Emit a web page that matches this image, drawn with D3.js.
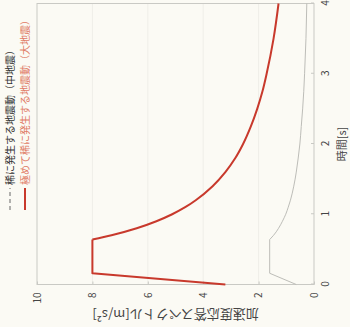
<!DOCTYPE html>
<html>
<head>
<meta charset="utf-8">
<script src="https://cdn.jsdelivr.net/npm/d3@7"></script>
<style>
  body { margin: 0; background: #fbfaf4; }
  text { font-family: "Noto Sans CJK JP", "Noto Sans", sans-serif; }
</style>
</head>
<body>
<div id="chart"></div>
<script>
// 周期[s] と 加速度応答スペクトル[m/s2]
const periods = [0, 0.16, 0.64, 0.7, 0.8, 0.9, 1.0, 1.1, 1.2, 1.4, 1.6, 1.8, 2.0, 2.25, 2.5, 2.75, 3.0, 3.5, 4.0];
const largeQuake = [3.2, 8.0, 8.0, 7.31, 6.4, 5.69, 5.12, 4.65, 4.27, 3.66, 3.2, 2.84, 2.56, 2.28, 2.05, 1.86, 1.71, 1.46, 1.28];
const mediumQuake = [0.64, 1.6, 1.6, 1.46, 1.28, 1.14, 1.02, 0.93, 0.85, 0.73, 0.64, 0.57, 0.51, 0.46, 0.41, 0.37, 0.34, 0.29, 0.26];
const timeTicks = [0, 1, 2, 3, 4];
const accelTicks = [0, 2, 4, 6, 8, 10];
const legendLabels = ["稀に発生する地震動（中地震）", "極めて稀に発生する地震動（大地震）"];

const W = 350, H = 327;
const RED = "#c8392c";

const svg = d3.select("#chart").append("svg")
  .attr("width", W)
  .attr("height", H)
  .style("background-color", "#fbfaf4");

// the figure is shown turned a quarter to the left
const g = svg.append("g").attr("transform", `translate(0,${H}) rotate(-90)`);

const x = d3.scaleLinear().domain([0, 4]).range([42.5, 323.5]);
const y = d3.scaleLinear().domain([0, 10]).range([314, 37]);

// faint grid
g.selectAll(".grid")
  .data(accelTicks.slice(1, -1))
  .enter().append("line")
  .attr("x1", x(0)).attr("x2", x(4))
  .attr("y1", d => y(d)).attr("y2", d => y(d))
  .style("stroke", "#efeee8")
  .style("stroke-width", 1);

// frame
g.append("rect")
  .attr("x", x(0)).attr("y", y(10))
  .attr("width", x(4) - x(0)).attr("height", y(0) - y(10))
  .attr("fill", "none")
  .style("stroke", "#c9c9c4")
  .style("stroke-width", 1);

const xAxis = g.append("g")
  .attr("transform", `translate(0,${y(0)})`)
  .call(d3.axisBottom(x).tickValues(timeTicks).tickFormat(d3.format("d"))
    .tickSizeInner(-3).tickSizeOuter(0).tickPadding(8));
const yAxis = g.append("g")
  .attr("transform", `translate(${x(0)},0)`)
  .call(d3.axisLeft(y).tickValues(accelTicks).tickFormat(d3.format("d"))
    .tickSizeInner(-3).tickSizeOuter(0).tickPadding(8));

[xAxis, yAxis].forEach(a => {
  a.select(".domain").remove();
  a.selectAll("line").style("stroke", "#c9c9c4");
  a.selectAll("text").style("font-size", "10px").style("fill", "#444");
});

g.append("text")
  .attr("x", (x(0) + x(4)) / 2)
  .attr("y", 346)
  .attr("text-anchor", "middle")
  .style("font-size", "11px")
  .style("fill", "#444")
  .text("時間[s]");

g.append("text")
  .attr("transform", `translate(12,${(y(0) + y(10)) / 2}) rotate(-90)`)
  .attr("text-anchor", "middle")
  .attr("dy", "0.35em")
  .style("font-size", "13px")
  .style("fill", "#444")
  .text("加速度応答スペクトル[m/s²]");

// curves: straight rise + plateau, then smooth decay
function drawSeries(values, color, width) {
  const pts = periods.map((p, i) => [p, values[i]]);
  const straight = d3.line().x(d => x(d[0])).y(d => y(d[1]));
  const smooth = d3.line().x(d => x(d[0])).y(d => y(d[1])).curve(d3.curveMonotoneX);
  g.append("path")
    .attr("d", straight(pts.slice(0, 3)))
    .attr("fill", "none")
    .style("stroke", color)
    .style("stroke-width", width)
    .style("stroke-linejoin", "round");
  g.append("path")
    .attr("d", smooth(pts.slice(2)))
    .attr("fill", "none")
    .style("stroke", color)
    .style("stroke-width", width);
}

drawSeries(mediumQuake, "#bdbdb8", 1);
drawSeries(largeQuake, RED, 2);

// legend
const legend = g.selectAll(".legend")
  .data(legendLabels)
  .enter().append("g")
  .attr("transform", (d, i) => `translate(117,${10 + i * 15})`);

legend.append("line")
  .attr("x1", 0).attr("x2", 22)
  .style("stroke", (d, i) => i === 0 ? "#666" : RED)
  .style("stroke-width", (d, i) => i === 0 ? 1 : 2)
  .style("stroke-dasharray", (d, i) => i === 0 ? "4,3" : null);

legend.append("text")
  .attr("x", 25)
  .attr("dy", "0.35em")
  .style("font-size", "10px")
  .style("fill", (d, i) => i === 0 ? "#333" : "#e07a66")
  .text(d => d);
</script>
</body>
</html>
